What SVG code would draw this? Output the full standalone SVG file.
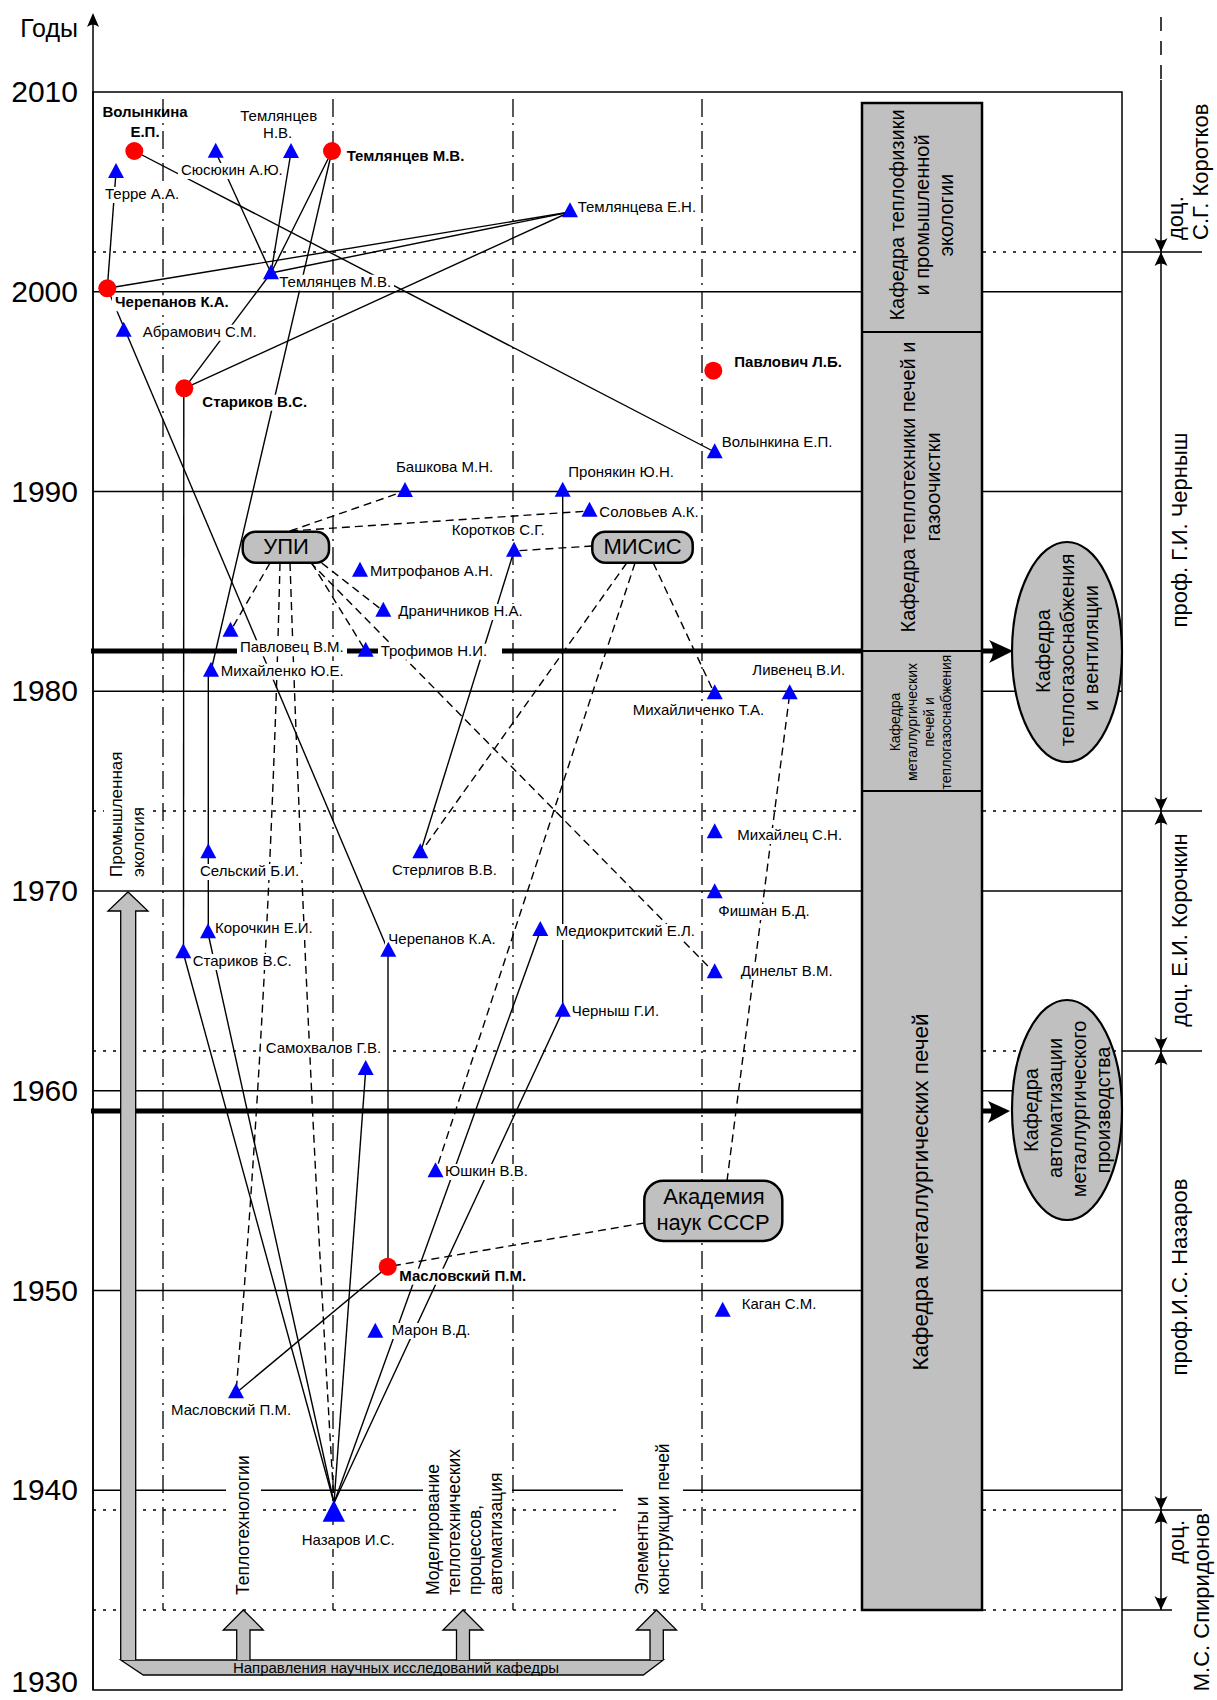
<svg xmlns="http://www.w3.org/2000/svg" width="1217" height="1700" viewBox="0 0 1217 1700">
<style>
.t{font-family:"Liberation Sans",Arial,sans-serif;font-size:15px;fill:#000}
.b{font-weight:bold}
.yr{font-family:"Liberation Sans",Arial,sans-serif;font-size:30px;fill:#000;text-anchor:end}
.g{stroke:#000;stroke-width:1.5;fill:none}
.dot{stroke:#000;stroke-width:1.3;stroke-dasharray:3 7;fill:none}
.dd{stroke:#000;stroke-width:1.3;stroke-dasharray:18 6 2 6;fill:none}
.thick{stroke:#000;stroke-width:5;fill:none}
.c{stroke:#000;stroke-width:1.4;fill:none}
.d{stroke:#000;stroke-width:1.4;stroke-dasharray:8 5;fill:none}
.tri{fill:#0000ff}
.circ{fill:#ff0000}
.bg{fill:#fff}
.grey{fill:#c0c0c0;stroke:#000;stroke-width:1.3}
.box{fill:#c0c0c0;stroke:#000;stroke-width:2.5}
.lbl{font-family:"Liberation Sans",Arial,sans-serif;fill:#000}
</style>
<defs>
<path id="tri" d="M0,-10 L8,5 L-8,5 Z"/>
<path id="ad" d="M0,0 L-6.5,-14 Q0,-9 6.5,-14 Z"/>
<path id="au" d="M0,0 L-6.5,14 Q0,9 6.5,14 Z"/>
</defs>
<rect width="1217" height="1700" fill="#fff"/>

<g id="grid">
<rect class="g" x="93" y="92" width="1029" height="1598"/>
<line class="g" x1="93" y1="1690" x2="93" y2="16"/>
<path d="M93,13 L87,27 Q93,22 99,27 Z" fill="#000"/>
<line class="g" x1="93" y1="291.75" x2="1122" y2="291.75"/>
<line class="g" x1="93" y1="491.5" x2="1122" y2="491.5"/>
<line class="g" x1="93" y1="691.25" x2="1122" y2="691.25"/>
<line class="g" x1="93" y1="891" x2="1122" y2="891"/>
<line class="g" x1="93" y1="1090.75" x2="1122" y2="1090.75"/>
<line class="g" x1="93" y1="1290.5" x2="1122" y2="1290.5"/>
<line class="g" x1="93" y1="1490.25" x2="1122" y2="1490.25"/>
<line class="dot" x1="93" y1="252" x2="1122" y2="252"/>
<line class="dot" x1="93" y1="811" x2="1122" y2="811"/>
<line class="dot" x1="93" y1="1051" x2="1122" y2="1051"/>
<line class="dot" x1="93" y1="1510" x2="1122" y2="1510"/>
<line class="dot" x1="93" y1="1610" x2="1122" y2="1610"/>
<line class="dd" x1="163" y1="99" x2="163" y2="1610"/>
<line class="dd" x1="333" y1="99" x2="333" y2="1610"/>
<line class="dd" x1="513" y1="99" x2="513" y2="1610"/>
<line class="dd" x1="702" y1="99" x2="702" y2="1610"/>
<line class="thick" x1="91" y1="651" x2="862" y2="651"/>
<line class="thick" x1="982" y1="651" x2="1000" y2="651"/>
<path d="M1013,651 L989,640 Q997,651 989,663 Z" fill="#000"/>
<line class="thick" x1="91" y1="1111" x2="862" y2="1111"/>
<line class="thick" x1="982" y1="1111" x2="998" y2="1111"/>
<path d="M1010,1111 L988,1101 Q995,1111 988,1123 Z" fill="#000"/>
<text class="lbl" x="78" y="37" font-size="25" text-anchor="end">Годы</text>
<text class="yr" x="78" y="102">2010</text>
<text class="yr" x="78" y="302">2000</text>
<text class="yr" x="78" y="502">1990</text>
<text class="yr" x="78" y="701">1980</text>
<text class="yr" x="78" y="901">1970</text>
<text class="yr" x="78" y="1101">1960</text>
<text class="yr" x="78" y="1301">1950</text>
<text class="yr" x="78" y="1500">1940</text>
<text class="yr" x="78" y="1692">1930</text>
</g>

<g id="timeline">
<line x1="1161" y1="17" x2="1161" y2="80" stroke="#000" stroke-width="1.5" stroke-dasharray="14 10"/>
<line class="g" x1="1161" y1="80" x2="1161" y2="1610"/>
<line class="g" x1="1122" y1="252" x2="1202" y2="252"/>
<line class="g" x1="1122" y1="811" x2="1202" y2="811"/>
<line class="g" x1="1122" y1="1051" x2="1202" y2="1051"/>
<line class="g" x1="1122" y1="1510" x2="1202" y2="1510"/>
<line class="g" x1="1122" y1="1610" x2="1172" y2="1610"/>
<use href="#ad" x="1161" y="252"/><use href="#au" x="1161" y="252"/>
<use href="#ad" x="1161" y="811"/><use href="#au" x="1161" y="811"/>
<use href="#ad" x="1161" y="1051"/><use href="#au" x="1161" y="1051"/>
<use href="#ad" x="1161" y="1510"/><use href="#au" x="1161" y="1510"/>
<use href="#ad" x="1161" y="1610"/>
<text class="lbl" font-size="22" transform="translate(1183,240) rotate(-90)">доц.</text>
<text class="lbl" font-size="22" transform="translate(1208,240) rotate(-90)">С.Г. Коротков</text>
<text class="lbl" font-size="22" text-anchor="middle" transform="translate(1187,530) rotate(-90)">проф. Г.И. Черныш</text>
<text class="lbl" font-size="22" text-anchor="middle" transform="translate(1187,930) rotate(-90)">доц. Е.И. Корочкин</text>
<text class="lbl" font-size="22" text-anchor="middle" transform="translate(1187,1277) rotate(-90)">проф.И.С. Назаров</text>
<text class="lbl" font-size="22" text-anchor="end" transform="translate(1184,1520) rotate(-90)">доц.</text>
<text class="lbl" font-size="22" text-anchor="end" transform="translate(1209,1513) rotate(-90)">М.С. Спиридонов</text>
</g>

<g id="departments">
<rect class="box" x="862" y="103" width="120" height="1507"/>
<line x1="862" y1="332" x2="982" y2="332" stroke="#000" stroke-width="2.2"/>
<line x1="862" y1="651" x2="982" y2="651" stroke="#000" stroke-width="2"/>
<line x1="862" y1="791" x2="982" y2="791" stroke="#000" stroke-width="2"/>
<g class="lbl" font-size="20" text-anchor="middle">
<text transform="translate(904,215) rotate(-90)">Кафедра теплофизики</text>
<text transform="translate(928.5,215) rotate(-90)">и промышленной</text>
<text transform="translate(953,215) rotate(-90)">экологии</text>
<text transform="translate(914.5,487) rotate(-90)">Кафедра теплотехники печей и</text>
<text transform="translate(939.5,487) rotate(-90)">газоочистки</text>
</g>
<g class="lbl" font-size="14" text-anchor="middle">
<text transform="translate(900,722) rotate(-90)">Кафедра</text>
<text transform="translate(917,722) rotate(-90)">металлургических</text>
<text transform="translate(934,722) rotate(-90)">печей и</text>
<text transform="translate(951,722) rotate(-90)">теплогазоснабжения</text>
</g>
<text class="lbl" font-size="22.5" text-anchor="middle" transform="translate(928,1192) rotate(-90)">Кафедра металлургических печей</text>
<ellipse cx="1067" cy="652" rx="55" ry="110" fill="#c0c0c0" stroke="#000" stroke-width="2.2"/>
<g class="lbl" font-size="20" text-anchor="middle">
<text transform="translate(1049.5,651) rotate(-90)">Кафедра</text>
<text transform="translate(1073.5,650) rotate(-90)">теплогазоснабжения</text>
<text transform="translate(1097.5,648) rotate(-90)">и вентиляции</text>
</g>
<ellipse cx="1067" cy="1110" rx="55" ry="110" fill="#c0c0c0" stroke="#000" stroke-width="2.2"/>
<g class="lbl" font-size="20" text-anchor="middle">
<text transform="translate(1037.5,1110) rotate(-90)">Кафедра</text>
<text transform="translate(1061.5,1108) rotate(-90)">автоматизации</text>
<text transform="translate(1085.5,1109) rotate(-90)">металлургического</text>
<text transform="translate(1109.5,1110) rotate(-90)">производства</text>
</g>
</g>

<g id="directions">
<path class="grey" d="M120.7,1660 L663.3,1660 L643.3,1675 L143.3,1675 Z"/>
<path class="grey" d="M120.7,1660 L120.7,911 L108,911 L128,892 L148,911 L135.7,911 L135.7,1660"/>
<path class="grey" d="M236.7,1660 L236.7,1630 L223.3,1630 L243.3,1610 L263.3,1630 L250,1630 L250,1660"/>
<path class="grey" d="M456.5,1660 L456.5,1630 L443,1630 L463,1610 L483,1630 L469.5,1630 L469.5,1660"/>
<path class="grey" d="M650,1660 L650,1630 L636.5,1630 L656.5,1610 L676.5,1630 L663.3,1630 L663.3,1660"/>
<text class="lbl" font-size="15" x="396" y="1673" text-anchor="middle">Направления научных исследований кафедры</text>
<rect class="bg" x="104" y="745" width="46" height="135"/>
<text class="lbl" font-size="17" transform="translate(122,877) rotate(-90)">Промышленная</text>
<text class="lbl" font-size="17" transform="translate(144,877) rotate(-90)">экология</text>
<rect class="bg" x="226" y="1450" width="35" height="148"/>
<text class="lbl" font-size="17.5" transform="translate(249,1595) rotate(-90)">Теплотехнологии</text>
<rect class="bg" x="423" y="1440" width="89" height="158"/>
<text class="lbl" font-size="17.5" transform="translate(439,1595) rotate(-90)">Моделирование</text>
<text class="lbl" font-size="17.5" transform="translate(460,1595) rotate(-90)">теплотехнических</text>
<text class="lbl" font-size="17.5" transform="translate(481,1595) rotate(-90)">процессов,</text>
<text class="lbl" font-size="17.5" transform="translate(502,1595) rotate(-90)">автоматизация</text>
<rect class="bg" x="623" y="1440" width="60" height="158"/>
<text class="lbl" font-size="17.5" transform="translate(647.5,1595) rotate(-90)">Элементы и</text>
<text class="lbl" font-size="17.5" transform="translate(668.5,1595) rotate(-90)">конструкции печей</text>
</g>

<g id="connectors">
<path class="c" d="M134.3,151 L714.7,452"/>
<path class="c" d="M107.3,288.3 L116,172"/>
<path class="c" d="M215.7,152 L271,273"/>
<path class="c" d="M291,152 L271,273"/>
<path class="c" d="M332,151 L271,273"/>
<path class="c" d="M332,151 L211,671"/>
<path class="c" d="M184.3,388.3 L271,273"/>
<path class="c" d="M570,212 L107.3,288.3"/>
<path class="c" d="M570,212 L271,273"/>
<path class="c" d="M570,212 L184.3,388.3"/>
<path class="c" d="M107.3,288.3 L388.3,951"/>
<path class="c" d="M183.8,388.3 L183.5,953"/>
<path class="c" d="M208.3,671 L208.3,933"/>
<path class="c" d="M208,933 L334,1503"/>
<path class="c" d="M183.3,953 L334,1503"/>
<path class="c" d="M365.7,1070 L334,1503"/>
<path class="c" d="M540.3,931 L334,1503"/>
<path class="c" d="M562.8,1011 L334,1503"/>
<path class="c" d="M388,951 L388,1266.7"/>
<path class="c" d="M387.7,1266.7 L236,1393"/>
<path class="c" d="M562.7,491 L562.7,1011"/>
<path class="c" d="M514,551 L420.3,853"/>
<path class="d" d="M290,531 L405,491"/>
<path class="d" d="M290,531 L589.5,511"/>
<path class="d" d="M270,563 L230.5,631"/>
<path class="d" d="M280,563 Q270,980 236,1393"/>
<path class="d" d="M290,563 Q306,1040 334,1503"/>
<path class="d" d="M311.7,563 L365.7,651"/>
<path class="d" d="M321.7,563 L383.3,611"/>
<path class="d" d="M310,562 L714.7,973"/>
<path class="d" d="M592.3,546 L514,551"/>
<path class="d" d="M653.3,563 L714.7,694"/>
<path class="d" d="M626.7,563 L420.3,853"/>
<path class="d" d="M635,563 L435.5,1172"/>
<path class="d" d="M727,1181 L789.7,694"/>
<path class="d" d="M644.3,1223 L387.7,1266.7"/>
</g>

<g id="org-upi">
<rect x="242.7" y="531.7" width="86.3" height="31" rx="13" fill="#c0c0c0" stroke="#000" stroke-width="2.5"/>
<text class="lbl" font-size="22" x="286" y="553.5" text-anchor="middle">УПИ</text>
</g>
<g id="org-misis">
<rect x="592.3" y="531.7" width="100.4" height="31" rx="13" fill="#c0c0c0" stroke="#000" stroke-width="2.5"/>
<text class="lbl" font-size="22" x="642.5" y="553.5" text-anchor="middle">МИСиС</text>
</g>
<g id="org-academy">
<rect x="644.3" y="1180.7" width="138" height="60.3" rx="19" fill="#c0c0c0" stroke="#000" stroke-width="2.5"/>
<text class="lbl" font-size="22" x="714" y="1203.5" text-anchor="middle">Академия</text>
<text class="lbl" font-size="22" x="713" y="1230" text-anchor="middle">наук СССР</text>
</g>

<g id="n-volynkina-c"><text class="t b" x="145" y="116.7" text-anchor="middle">Волынкина</text><text class="t b" x="145" y="136.7" text-anchor="middle">Е.П.</text><circle class="circ" cx="134.3" cy="151" r="9"/></g>
<g id="n-terre"><rect class="bg" x="102" y="187" width="80" height="16"/><text class="t" x="105" y="199">Терре А.А.</text><use class="tri" href="#tri" x="116" y="173"/></g>
<g id="n-susyukin"><rect class="bg" x="178" y="163" width="108" height="16"/><text class="t" x="181" y="175">Сюсюкин А.Ю.</text><use class="tri" href="#tri" x="215.7" y="152.7"/></g>
<g id="n-temlyantsev-nv"><text class="t" x="278.7" y="120.7" text-anchor="middle">Темлянцев</text><text class="t" x="277.7" y="138.3" text-anchor="middle">Н.В.</text><use class="tri" href="#tri" x="291" y="153"/></g>
<g id="n-temlyantsev-c"><rect class="bg" x="344" y="148.7" width="126" height="16"/><text class="t b" x="346.7" y="160.7">Темлянцев М.В.</text><circle class="circ" cx="332" cy="151" r="9"/></g>
<g id="n-temlyantseva"><rect class="bg" x="575" y="199.7" width="125" height="16"/><text class="t" x="577.7" y="211.7">Темлянцева Е.Н.</text><use class="tri" href="#tri" x="570" y="212.3"/></g>
<g id="n-temlyantsev-mv"><rect class="bg" x="276" y="274.7" width="118" height="16"/><text class="t" x="279.3" y="286.7">Темлянцев М.В.</text><use class="tri" href="#tri" x="271" y="274.3"/></g>
<g id="n-cherepanov-c"><rect class="bg" x="112" y="295.3" width="121" height="16"/><text class="t b" x="115" y="307.3">Черепанов К.А.</text><circle class="circ" cx="107.3" cy="288.3" r="9"/></g>
<g id="n-abramovich"><rect class="bg" x="140" y="324.7" width="120" height="16"/><text class="t" x="142.7" y="336.7">Абрамович С.М.</text><use class="tri" href="#tri" x="123.7" y="331.7"/></g>
<g id="n-starikov-c"><rect class="bg" x="199" y="394.7" width="113" height="16"/><text class="t b" x="202.3" y="406.7">Стариков В.С.</text><circle class="circ" cx="184.3" cy="388.3" r="9"/></g>
<g id="n-pavlovich-c"><text class="t b" x="734.3" y="366.7">Павлович Л.Б.</text><circle class="circ" cx="713.3" cy="370.7" r="9"/></g>
<g id="n-volynkina"><rect class="bg" x="719" y="434.7" width="117" height="16"/><text class="t" x="721.7" y="446.7">Волынкина Е.П.</text><use class="tri" href="#tri" x="714.7" y="453.3"/></g>
<g id="n-bashkova"><rect class="bg" x="393" y="459.7" width="103" height="16"/><text class="t" x="396" y="471.7">Башкова М.Н.</text><use class="tri" href="#tri" x="405" y="492"/></g>
<g id="n-pronyakin"><rect class="bg" x="565" y="465.3" width="111" height="16"/><text class="t" x="568.3" y="477.3">Пронякин Ю.Н.</text><use class="tri" href="#tri" x="562.7" y="491.7"/></g>
<g id="n-solovyev"><rect class="bg" x="596" y="504.7" width="105" height="16"/><text class="t" x="599.3" y="516.7">Соловьев А.К.</text><use class="tri" href="#tri" x="589.5" y="511.7"/></g>
<g id="n-korotkov"><rect class="bg" x="449" y="523" width="101" height="16"/><text class="t" x="451.7" y="535">Коротков С.Г.</text><use class="tri" href="#tri" x="514" y="551.7"/></g>
<g id="n-mitrofanov"><rect class="bg" x="367" y="563.7" width="129" height="16"/><text class="t" x="370" y="575.7">Митрофанов А.Н.</text><use class="tri" href="#tri" x="360" y="571.7"/></g>
<g id="n-dranichnikov"><rect class="bg" x="395" y="604" width="131" height="16"/><text class="t" x="398.3" y="616">Драничников Н.А.</text><use class="tri" href="#tri" x="383.3" y="611.7"/></g>
<g id="n-trofimov"><rect class="bg" x="378" y="643.7" width="124" height="16"/><text class="t" x="380.7" y="655.7">Трофимов Н.И.</text><use class="tri" href="#tri" x="365.7" y="651.7"/></g>
<g id="n-pavlovets"><rect class="bg" x="237" y="640.3" width="110" height="16"/><text class="t" x="240" y="652.3">Павловец В.М.</text><use class="tri" href="#tri" x="230.5" y="631.7"/></g>
<g id="n-mikhaylenko"><rect class="bg" x="218" y="663.7" width="129" height="16"/><text class="t" x="220.7" y="675.7">Михайленко Ю.Е.</text><use class="tri" href="#tri" x="211" y="671.7"/></g>
<g id="n-livenets"><rect class="bg" x="749" y="663" width="99" height="16"/><text class="t" x="752.3" y="675">Ливенец В.И.</text><use class="tri" href="#tri" x="789.7" y="694.3"/></g>
<g id="n-mikhaylichenko"><rect class="bg" x="630" y="703" width="140" height="16"/><text class="t" x="632.7" y="715">Михайличенко Т.А.</text><use class="tri" href="#tri" x="714.7" y="694.3"/></g>
<g id="n-mikhaylets"><rect class="bg" x="734" y="828" width="111" height="16"/><text class="t" x="737.3" y="840">Михайлец С.Н.</text><use class="tri" href="#tri" x="714.7" y="833.3"/></g>
<g id="n-selskiy"><rect class="bg" x="197" y="864" width="107" height="16"/><text class="t" x="200" y="876">Сельский Б.И.</text><use class="tri" href="#tri" x="208.3" y="853.3"/></g>
<g id="n-sterligov"><rect class="bg" x="389" y="863" width="112" height="16"/><text class="t" x="392" y="875">Стерлигов В.В.</text><use class="tri" href="#tri" x="420.3" y="853.3"/></g>
<g id="n-fishman"><rect class="bg" x="715" y="904" width="97" height="16"/><text class="t" x="718.3" y="916">Фишман Б.Д.</text><use class="tri" href="#tri" x="714.7" y="893.3"/></g>
<g id="n-mediokritskiy"><rect class="bg" x="553" y="924" width="147" height="16"/><text class="t" x="555.7" y="936">Медиокритский Е.Л.</text><use class="tri" href="#tri" x="540.3" y="931"/></g>
<g id="n-korochkin"><rect class="bg" x="212" y="921.3" width="104" height="16"/><text class="t" x="215" y="933.3">Корочкин Е.И.</text><use class="tri" href="#tri" x="208" y="933.3"/></g>
<g id="n-cherepanov"><rect class="bg" x="385" y="932" width="115" height="16"/><text class="t" x="388.3" y="944">Черепанов К.А.</text><use class="tri" href="#tri" x="388.3" y="951.7"/></g>
<g id="n-starikov"><rect class="bg" x="190" y="954" width="105" height="16"/><text class="t" x="192.7" y="966">Стариков В.С.</text><use class="tri" href="#tri" x="183.3" y="953.3"/></g>
<g id="n-dinelt"><rect class="bg" x="738" y="964" width="100" height="16"/><text class="t" x="740.7" y="976">Динельт В.М.</text><use class="tri" href="#tri" x="714.7" y="973.3"/></g>
<g id="n-chernysh"><rect class="bg" x="569" y="1004" width="94" height="16"/><text class="t" x="571.7" y="1016">Черныш Г.И.</text><use class="tri" href="#tri" x="562.8" y="1011.7"/></g>
<g id="n-samokhvalov"><rect class="bg" x="263" y="1041.3" width="123" height="16"/><text class="t" x="265.7" y="1053.3">Самохвалов Г.В.</text><use class="tri" href="#tri" x="365.7" y="1070"/></g>
<g id="n-yushkin"><rect class="bg" x="442" y="1164" width="89" height="16"/><text class="t" x="445" y="1176">Юшкин В.В.</text><use class="tri" href="#tri" x="435.5" y="1172.3"/></g>
<g id="n-maslovskiy-c"><rect class="bg" x="396" y="1268.7" width="135" height="16"/><text class="t b" x="399.3" y="1280.7">Масловский П.М.</text><circle class="circ" cx="387.7" cy="1266.7" r="9"/></g>
<g id="n-kagan"><rect class="bg" x="739" y="1297.3" width="80" height="16"/><text class="t" x="741.7" y="1309.3">Каган С.М.</text><use class="tri" href="#tri" x="722.7" y="1311.7"/></g>
<g id="n-maron"><rect class="bg" x="389" y="1323" width="84" height="16"/><text class="t" x="391.7" y="1335">Марон В.Д.</text><use class="tri" href="#tri" x="375.3" y="1332.7"/></g>
<g id="n-maslovskiy"><rect class="bg" x="168" y="1403" width="128" height="16"/><text class="t" x="171" y="1415">Масловский П.М.</text><use class="tri" href="#tri" x="236" y="1393.3"/></g>
<g id="n-nazarov"><rect class="bg" x="299" y="1530" width="116" height="19"/><text class="t" font-size="17.5" x="301.7" y="1545">Назаров И.С.</text><path class="tri" d="M333.8,1500 L345,1521.7 L322.6,1521.7 Z"/></g>
</svg>
